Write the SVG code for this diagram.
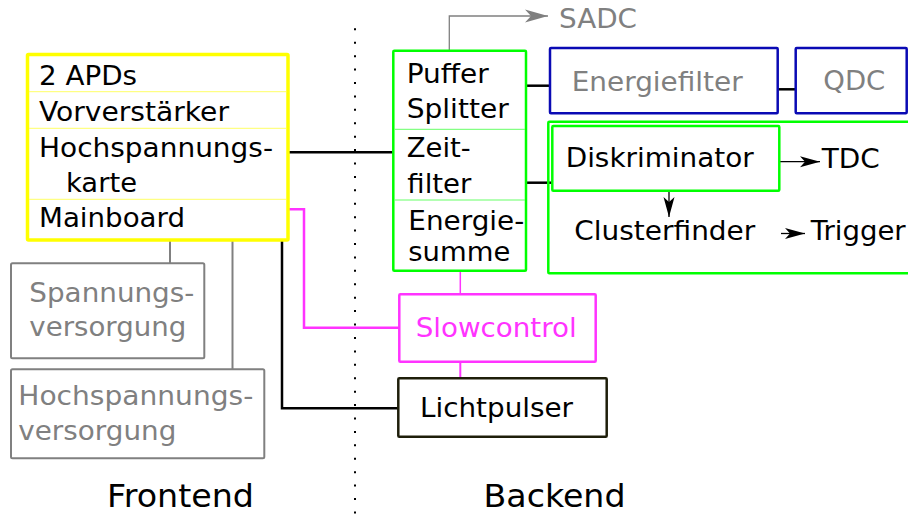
<svg xmlns="http://www.w3.org/2000/svg" width="908" height="515" viewBox="0 0 908 515">
  <style>
    text { font-family: "DejaVu Sans", "Liberation Sans", sans-serif; font-size: 26px; fill: #000; }
    .gray { fill: #808080; }
    .pink { fill: #ff33ff; }
    .big { font-size: 32px; }
    .box { fill: #fff; }
    .yellow { stroke: #ffff00; stroke-width: 3.5; }
    .green { stroke: #00ff00; stroke-width: 2.5; }
    .blue { stroke: #0a0ab4; stroke-width: 2.5; }
    .magenta { stroke: #ff33ff; stroke-width: 2.5; }
    .olive { stroke: #1e1e0a; stroke-width: 2.5; }
    .graybox { stroke: #808080; stroke-width: 2; }
    .sep-y { stroke: #ffff66; stroke-width: 1; }
    .sep-g { stroke: #66ff66; stroke-width: 1; }
    .wire { fill: none; stroke: #000; stroke-width: 2.5; }
    .wire-gray { fill: none; stroke: #808080; stroke-width: 2; }
    .wire-pink { fill: none; stroke: #ff33ff; stroke-width: 2.5; }
    .thin { fill: none; stroke: #000; stroke-width: 1.3; }
  </style>
  <defs>
    <marker id="head" markerUnits="userSpaceOnUse" markerWidth="24" markerHeight="14" viewBox="-22 -7 24 14" refX="0" refY="0" orient="auto">
      <path d="M0,0 L-20,-5.5 L-15,0 L-20,5.5 Z" fill="#000"/>
    </marker>
    <marker id="head-gray" markerUnits="userSpaceOnUse" markerWidth="26" markerHeight="16" viewBox="-24 -8 26 16" refX="0" refY="0" orient="auto">
      <path d="M0,0 L-23,-6.5 L-17,0 L-23,6.5 Z" fill="#808080"/>
    </marker>
  </defs>

  <!-- section divider -->
  <line x1="355" y1="28.3" x2="355" y2="515" stroke="#000" stroke-width="2" stroke-dasharray="2 11.42"/>

  <!-- connectors -->
  <g id="connectors">
    <line class="wire" x1="289" y1="152.3" x2="393" y2="152.3"/>
    <polyline class="wire-pink" points="287,209.3 304,209.3 304,327.7 399,327.7"/>
    <polyline class="wire" points="282,240 282,408.3 398,408.3"/>
    <line class="wire-gray" x1="170" y1="240" x2="170" y2="263"/>
    <line class="wire-gray" x1="232.5" y1="240" x2="232.5" y2="369"/>
    <line class="wire" x1="526" y1="85.7" x2="550" y2="85.7"/>
    <line class="wire" x1="778" y1="89.3" x2="796" y2="89.3"/>
    <line class="wire" x1="526" y1="182.7" x2="552" y2="182.7"/>
    <line x1="460.3" y1="271" x2="460.3" y2="294" stroke="#ff33ff" stroke-width="1.5"/>
    <line x1="460.3" y1="362" x2="460.3" y2="378" stroke="#ff33ff" stroke-width="2"/>
    <polyline points="449.3,50 449.3,16 548,16" fill="none" stroke="#808080" stroke-width="1.3" marker-end="url(#head-gray)"/>
    <line class="thin" x1="779" y1="161.7" x2="820" y2="161.7" marker-end="url(#head)"/>
    <line class="thin" x1="669" y1="191" x2="669" y2="217" marker-end="url(#head)"/>
    <line class="thin" x1="781" y1="233.5" x2="805" y2="233.5" marker-end="url(#head)"/>
  </g>

  <!-- front-end module -->
  <g id="frontend-module">
    <rect class="box yellow" x="27.5" y="54.5" width="260.5" height="185.5" rx="1"/>
    <line class="sep-y" x1="29" y1="91.7" x2="286" y2="91.7"/>
    <line class="sep-y" x1="29" y1="128.3" x2="286" y2="128.3"/>
    <line class="sep-y" x1="29" y1="199.3" x2="286" y2="199.3"/>
    <text x="39" y="85" textLength="98" lengthAdjust="spacingAndGlyphs">2 APDs</text>
    <text x="39" y="121" textLength="190" lengthAdjust="spacingAndGlyphs">Vorverstärker</text>
    <text x="39" y="156.7" textLength="234" lengthAdjust="spacingAndGlyphs">Hochspannungs-</text>
    <text x="66" y="191.7" textLength="71" lengthAdjust="spacingAndGlyphs">karte</text>
    <text x="39" y="226.7" textLength="146" lengthAdjust="spacingAndGlyphs">Mainboard</text>
  </g>

  <g id="spannungsversorgung">
    <rect class="box graybox" x="11" y="263.3" width="193.3" height="95" rx="1.5"/>
    <text class="gray" x="29.3" y="301.7" textLength="165" lengthAdjust="spacingAndGlyphs">Spannungs-</text>
    <text class="gray" x="29.3" y="336" textLength="157" lengthAdjust="spacingAndGlyphs">versorgung</text>
  </g>

  <g id="hochspannungsversorgung">
    <rect class="box graybox" x="11" y="369.3" width="253.3" height="89" rx="1.5"/>
    <text class="gray" x="18.3" y="405" textLength="235" lengthAdjust="spacingAndGlyphs">Hochspannungs-</text>
    <text class="gray" x="18.3" y="440" textLength="158" lengthAdjust="spacingAndGlyphs">versorgung</text>
  </g>

  <!-- back-end modules -->
  <g id="puffer-splitter">
    <rect class="box green" x="393.3" y="50.7" width="132.7" height="220" rx="1"/>
    <line class="sep-g" x1="394.5" y1="129.3" x2="525" y2="129.3"/>
    <line class="sep-g" x1="394.5" y1="200" x2="525" y2="200"/>
    <text x="406.7" y="83.3" textLength="82" lengthAdjust="spacingAndGlyphs">Puffer</text>
    <text x="406.7" y="118.3" textLength="102" lengthAdjust="spacingAndGlyphs">Splitter</text>
    <text x="406.7" y="157.3" textLength="64" lengthAdjust="spacingAndGlyphs">Zeit-</text>
    <text x="407.3" y="192.7" textLength="64" lengthAdjust="spacingAndGlyphs">filter</text>
    <text x="408.3" y="230" textLength="116" lengthAdjust="spacingAndGlyphs">Energie-</text>
    <text x="408.3" y="260.7" textLength="102" lengthAdjust="spacingAndGlyphs">summe</text>
  </g>

  <g id="sadc">
    <text class="gray" x="559" y="28.3" textLength="78" lengthAdjust="spacingAndGlyphs">SADC</text>
  </g>

  <g id="energiefilter">
    <rect class="box blue" x="550" y="48" width="227.7" height="65.3" rx="1"/>
    <text class="gray" x="571.7" y="90.7" textLength="171" lengthAdjust="spacingAndGlyphs">Energiefilter</text>
  </g>

  <g id="qdc">
    <rect class="box blue" x="795.7" y="48" width="111" height="65.3" rx="1"/>
    <text class="gray" x="823.3" y="90" textLength="62" lengthAdjust="spacingAndGlyphs">QDC</text>
  </g>

  <g id="trigger-logic">
    <rect fill="none" class="green" x="548.3" y="121.7" width="380" height="151.6" rx="1"/>
  </g>

  <g id="diskriminator">
    <rect class="box green" x="552.3" y="126" width="227" height="64.7" rx="1"/>
    <text x="565.7" y="166.7" textLength="188" lengthAdjust="spacingAndGlyphs">Diskriminator</text>
  </g>

  <g id="tdc">
    <text x="821.7" y="168.3" textLength="58" lengthAdjust="spacingAndGlyphs">TDC</text>
  </g>

  <g id="clusterfinder">
    <text x="574.3" y="240" textLength="181" lengthAdjust="spacingAndGlyphs">Clusterfinder</text>
  </g>

  <g id="trigger">
    <text x="810.7" y="240" textLength="95" lengthAdjust="spacingAndGlyphs">Trigger</text>
  </g>

  <g id="slowcontrol">
    <rect class="box magenta" x="399.3" y="294.3" width="196.4" height="67.4" rx="1"/>
    <text class="pink" x="415.7" y="336.7" textLength="161" lengthAdjust="spacingAndGlyphs">Slowcontrol</text>
  </g>

  <g id="lichtpulser">
    <rect class="box olive" x="398.3" y="378.3" width="208.4" height="58.4" rx="1"/>
    <text x="420" y="417.3" textLength="153" lengthAdjust="spacingAndGlyphs">Lichtpulser</text>
  </g>

  <!-- section labels -->
  <g id="labels">
    <text class="big" x="107" y="507" textLength="147" lengthAdjust="spacingAndGlyphs">Frontend</text>
    <text class="big" x="483.5" y="507" textLength="142" lengthAdjust="spacingAndGlyphs">Backend</text>
  </g>
</svg>
